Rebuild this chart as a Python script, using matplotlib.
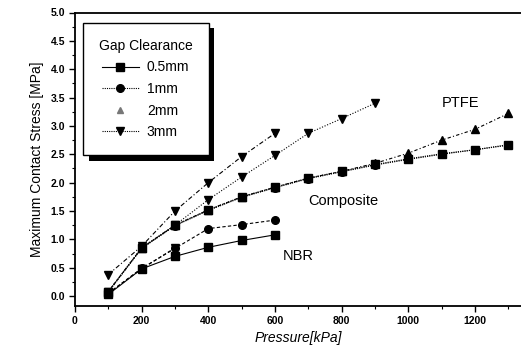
import matplotlib
matplotlib.use('Agg')
import matplotlib.pyplot as plt
import matplotlib.patheffects as pe
from matplotlib.ticker import MultipleLocator, FormatStrFormatter
from matplotlib.lines import Line2D

plt.rcParams['font.family'] = ['Liberation Sans', 'DejaVu Sans']

# ---- data ----
x_nbr = [100, 200, 300, 400, 500, 600]
nbr_05 = [0.03, 0.48, 0.70, 0.86, 0.98, 1.08]
nbr_1 = [0.05, 0.49, 0.84, 1.19, 1.26, 1.34]
x_nbr3 = [100, 200, 300]
nbr_3 = [0.05, 0.48, 0.85]

x_comp = [100, 200, 300, 400, 500, 600, 700, 800, 900, 1000, 1100, 1200, 1300]
comp_05 = [0.08, 0.85, 1.25, 1.52, 1.75, 1.92, 2.08, 2.20, 2.32, 2.42, 2.51, 2.58, 2.66]
comp_1 = [0.07, 0.84, 1.24, 1.51, 1.74, 1.91, 2.07, 2.19, 2.31, 2.41, 2.50, 2.58, 2.67]
comp_2 = [0.08, 0.85, 1.25, 1.52, 1.75, 1.92, 2.08, 2.20, 2.34, 2.52, 2.75, 2.94, 3.22]

x_mid3 = [100, 200, 300, 400, 500, 600, 700, 800, 900]
mid_3 = [0.08, 0.85, 1.25, 1.70, 2.10, 2.48, 2.87, 3.13, 3.40]

x_top3 = [100, 200, 300, 400, 500, 600]
top_3 = [0.38, 0.88, 1.50, 2.00, 2.46, 2.87]

legend_labels = ['0.5mm', '1mm', '2mm', '3mm']

# ---- figure ----
fig = plt.figure(figsize=(5.21, 3.55), dpi=100)
ax = fig.add_axes([75/521, 49/355, 446/521, 293.5/355])

lk = dict(color='black', lw=0.8)
# 2mm / 3mm lines under the others
ax.plot(x_comp, comp_2, ls=(0, (3, 2, 1, 2)), marker='^', ms=5.5, zorder=2, **lk)
ax.plot(x_mid3, mid_3, ls=(0, (1, 1.5)), marker='v', ms=5.5, zorder=2, **lk)
ax.plot(x_top3, top_3, ls=(0, (4, 2, 1, 2)), marker='v', ms=5.5, zorder=2, **lk)
ax.plot(x_nbr3, nbr_3, ls=(0, (3, 2)), marker='v', ms=5.5, zorder=2, **lk)
# 0.5mm / 1mm
ax.plot(x_comp, comp_1, ls=(0, (1, 1)), marker='o', ms=5.5, zorder=3, **lk)
ax.plot(x_comp, comp_05, ls=(0, (1, 1)), marker='s', ms=5.5, zorder=3, **lk)
ax.plot(x_nbr, nbr_1, ls=(0, (3, 2)), marker='o', ms=5.5, zorder=3, **lk)
ax.plot(x_nbr, nbr_05, ls='-', marker='s', ms=5.5, zorder=3, **lk)

ax.text(1100, 3.40, 'PTFE', fontsize=10.5, va='center', ha='left')
ax.text(700, 1.67, 'Composite', fontsize=10.5, va='center', ha='left')
ax.text(623, 0.70, 'NBR', fontsize=10.5, va='center', ha='left')

ax.set_xlim(0, 1338)
ax.set_ylim(-0.175, 5.0)
ax.xaxis.set_major_locator(MultipleLocator(200))
ax.xaxis.set_minor_locator(MultipleLocator(100))
ax.yaxis.set_major_locator(MultipleLocator(0.5))
ax.yaxis.set_minor_locator(MultipleLocator(0.25))
ax.yaxis.set_major_formatter(FormatStrFormatter('%.1f'))
ax.tick_params(which='major', direction='out', length=4, width=1, labelsize=7.5, pad=3)
ax.tick_params(which='minor', direction='out', length=2, width=0.8)
for lab in ax.get_xticklabels() + ax.get_yticklabels():
    lab.set_fontweight('bold')
ax.spines['right'].set_visible(False)
for s in ['left', 'bottom', 'top']:
    ax.spines[s].set_linewidth(1.3)

ax.set_xlabel('Pressure[kPa]', fontsize=10, style='italic', labelpad=4)
ax.set_ylabel('Maximum Contact Stress [MPa]', fontsize=10, labelpad=5)

handles = [
    Line2D([0], [0], color='black', lw=0.8, ls='-', marker='s', ms=5.5),
    Line2D([0], [0], color='black', lw=0.8, ls=(0, (1, 1)), marker='o', ms=5.5),
    Line2D([0], [0], color='#777777', lw=0, marker='^', ms=4),
    Line2D([0], [0], color='black', lw=0.8, ls=(0, (1, 1)), marker='v', ms=5.5),
]
leg = ax.legend(handles, legend_labels, title='Gap Clearance', loc='upper left',
                bbox_to_anchor=(0.018, 0.965), fontsize=10, title_fontsize=10,
                frameon=True, fancybox=False, shadow=False, framealpha=1.0,
                handlelength=2.6, handletextpad=0.6, labelspacing=0.55,
                borderpad=1.15, borderaxespad=0)
frame = leg.get_frame()
frame.set_facecolor('white')
frame.set_edgecolor('black')
frame.set_linewidth(1.0)
frame.set_path_effects([pe.SimplePatchShadow(offset=(4, -4), shadow_rgbFace='black', alpha=1.0),
                        pe.Normal()])

fig.savefig('out.png', dpi=100, facecolor='white')
